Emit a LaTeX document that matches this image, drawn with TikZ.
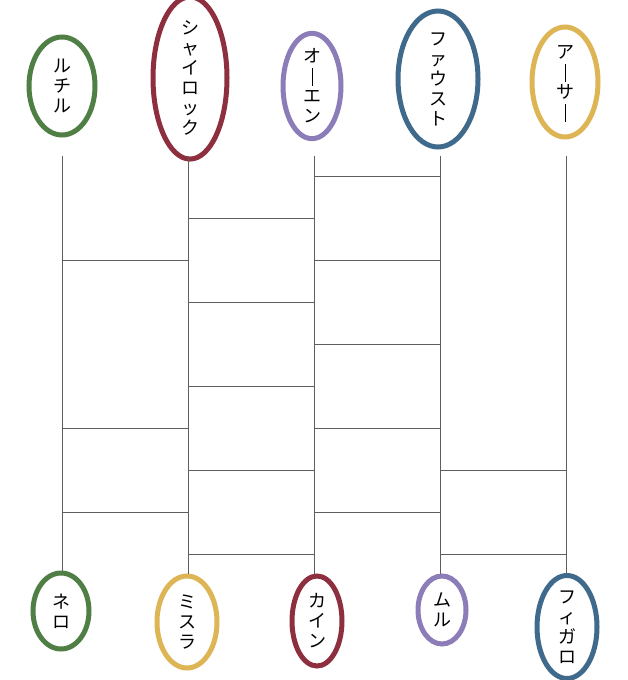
\documentclass[tikz,border=0pt]{standalone}
\usepackage{fontspec}
\usetikzlibrary{shapes.geometric}
\newfontfamily\cjk{Noto Sans CJK JP}
\definecolor{cgreen}{HTML}{4F7F45}
\definecolor{ccrimson}{HTML}{8E2F3F}
\definecolor{cpurple}{HTML}{8C7DB8}
\definecolor{cblue}{HTML}{3F6A8C}
\definecolor{cgold}{HTML}{DDB555}
\definecolor{cline}{HTML}{5E5E5E}
\newcommand{\cho}{\smash{\raisebox{-3pt}{\rule{0.9pt}{18pt}}}}
\begin{document}
\begin{tikzpicture}[x=1pt,y=-1pt,
  namebox/.style={ellipse, draw=#1, line width=5pt, inner sep=0pt, align=center,
    font=\cjk\fontsize{18}{20}\selectfont},
  rail/.style={draw=cline, line width=1pt},
  rung/.style={draw=cline, line width=1pt}]
\useasboundingbox[fill=white] (0,0) rectangle (628,680);
% top names
\node[namebox=cgreen, minimum width=66pt, minimum height=98pt] (t1) at (62,86) {ル\\チ\\ル};
\node[namebox=ccrimson, minimum width=74pt, minimum height=142pt] (t2) at (190,78) {シ\\ャ\\イ\\ロ\\ッ\\ク};
\node[namebox=cpurple, minimum width=58pt, minimum height=98pt] (t3) at (312,86) {オ\\\cho\\エ\\ン};
\node[namebox=cblue, minimum width=80pt, minimum height=136pt] (t4) at (438,79) {フ\\ァ\\ウ\\ス\\ト};
\node[namebox=cgold, minimum width=66pt, minimum height=110pt] (t5) at (565,82) {ア\\\cho\\サ\\\cho};
% bottom names
\node[namebox=cgreen, minimum width=56pt, minimum height=76pt] (b1) at (61,611) {ネ\\ロ};
\node[namebox=cgold, minimum width=60pt, minimum height=92pt] (b2) at (187,622) {ミ\\ス\\ラ};
\node[namebox=ccrimson, minimum width=50pt, minimum height=90pt] (b3) at (317,621) {カ\\イ\\ン};
\node[namebox=cpurple, minimum width=48pt, minimum height=68pt] (b4) at (442,610) {ム\\ル};
\node[namebox=cblue, minimum width=60pt, minimum height=100pt] (b5) at (567,627) {フ\\ィ\\ガ\\ロ};
% rails
\coordinate (s1) at (62,156);
\coordinate (s2) at (188,156);
\coordinate (s3) at (314,156);
\coordinate (s4) at (440,156);
\coordinate (s5) at (566,156);
\foreach \i in {1,...,5} {
  \draw[rail] (s\i) -- (s\i |- b\i.north);
}
% rungs: from rail, to rail, y
\foreach \a/\b/\yy in {3/4/176, 2/3/218, 1/2/260, 3/4/260, 2/3/302, 3/4/344,
  2/3/386, 1/2/428, 3/4/428, 2/3/470, 4/5/470, 1/2/512, 3/4/512, 2/3/554, 4/5/554} {
  \draw[rung] (s\a |- 0,\yy) -- (s\b |- 0,\yy);
}
\end{tikzpicture}
\end{document}
